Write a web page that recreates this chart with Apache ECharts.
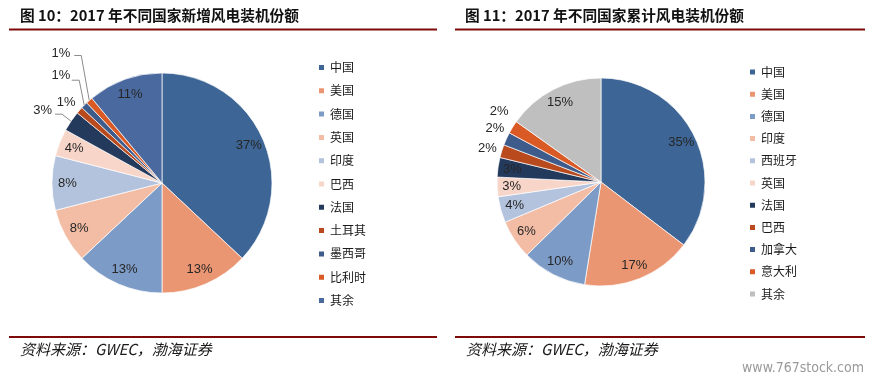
<!DOCTYPE html>
<html>
<head>
<meta charset="utf-8">
<script src="https://cdn.jsdelivr.net/npm/echarts@6/dist/echarts.min.js"></script>
<style>
html,body{margin:0;padding:0;background:#fff;}
#chart{width:877px;height:383px;}
</style>
</head>
<body>
<div id="chart"></div>
<script>
// ---------- data ----------
const leftTitle = '图 10：2017 年不同国家新增风电装机份额';
const rightTitle = '图 11：2017 年不同国家累计风电装机份额';
const sourceText = '资料来源：GWEC，渤海证券';
const watermark = 'www.767stock.com';

const leftCountries = ['中国', '美国', '德国', '英国', '印度', '巴西', '法国', '土耳其', '墨西哥', '比利时', '其余'];
const leftShares = [37, 13, 13, 8, 8, 4, 3, 1, 1, 1, 11];

const rightCountries = ['中国', '美国', '德国', '印度', '西班牙', '英国', '法国', '巴西', '加拿大', '意大利', '其余'];
const rightShares = [35, 17, 10, 6, 4, 3, 3, 2, 2, 2, 15];

// ---------- styles ----------
const leftColors = ['#3D6595', '#EA9672', '#7D9BC7', '#F2BCA5', '#B3C3DD', '#F7D5C8', '#243A5C', '#B84A1E', '#3D5B8B', '#D95A25', '#4A6A9F'];
const rightColors = ['#3D6595', '#EA9672', '#7D9BC7', '#F2BCA5', '#B3C3DD', '#F7D5C8', '#243A5C', '#B84A1E', '#3D5B8B', '#D95A25', '#BFBFBF'];

// outside label placement (style): index -> [labelDx, labelDy, bendDx, bendDy, endDx], relative to slice edge anchor
const leftOutside = {6: [-19, -11, -9, -7, -16], 7: [-4, -8, 0, 0, 0], 8: [-14, -30, -5, -25, -12.5], 9: [-19, -47, -8, -45, -15]};
const rightOutside = {7: [-5, -3, 0, 0, 0], 8: [-2, -10, 0, 0, 0], 9: [-4, -16, 0, 0, 0]};

const LEFT_C = [162, 183], LEFT_R = 110;
const RIGHT_C = [601, 182], RIGHT_R = 104;

const darkRed = '#7F0A0A';
const cjk = "'Noto Sans CJK SC', 'Noto Sans', sans-serif";
const labelFont = "'Liberation Sans', Arial, sans-serif";

function mainData(names, vals, colors, outside, showLine) {
  return names.map((n, i) => {
    const item = {name: n, value: vals[i], itemStyle: {color: colors[i]}};
    if (outside[i]) {
      item.label = {show: true, position: 'outside'};
      item.labelLine = {show: true, length: 6, length2: 4, lineStyle: {color: '#8C8C8C', width: 1, opacity: showLine ? 1 : 0}};
    }
    return item;
  });
}
function labelData(names, vals, outside) {
  return names.map((n, i) => ({name: n, value: vals[i], label: {show: !outside[i]}}));
}
function layoutFn(outside) {
  return function (params) {
    const o = outside[params.dataIndex];
    const pts = params.labelLinePoints;
    if (!o || !pts) return {};
    const ax = pts[0][0], ay = pts[0][1];
    return {
      x: ax + o[0],
      y: ay + o[1],
      align: 'right',
      verticalAlign: 'middle',
      labelLinePoints: [[ax, ay], [ax + o[2], ay + o[3]], [ax + o[4], ay + o[3]]]
    };
  };
}

const labelStyle = {fontSize: 13, color: '#262626', fontFamily: labelFont, formatter: '{c}%'};

function pieSeries(center, r, names, vals, colors, outside, showLine) {
  return [
    {
      type: 'pie', center: center, radius: [0, r], startAngle: 90, clockwise: true,
      avoidLabelOverlap: false,
      itemStyle: {borderColor: '#fff', borderWidth: 0.7},
      label: Object.assign({show: false}, labelStyle),
      labelLine: {show: false},
      labelLayout: layoutFn(outside),
      emphasis: {disabled: true},
      data: mainData(names, vals, colors, outside, showLine)
    },
    {
      type: 'pie', center: center, radius: [Math.round(r * 0.66), r], startAngle: 90, clockwise: true,
      silent: true, avoidLabelOverlap: false,
      itemStyle: {color: 'rgba(0,0,0,0)', borderWidth: 0},
      label: Object.assign({show: true, position: 'inside'}, labelStyle),
      labelLine: {show: false},
      emphasis: {disabled: true},
      tooltip: {show: false},
      data: labelData(names, vals, outside)
    }
  ];
}

const legendText = {fontSize: 12, color: '#1A1A1A', fontFamily: cjk, lineHeight: 14};

const chart = echarts.init(document.getElementById('chart'), null, {renderer: 'canvas'});
chart.setOption({
  backgroundColor: '#fff',
  animation: false,
  legend: [
    {
      orient: 'vertical', left: 312, top: 55.5, itemWidth: 7, itemHeight: 7, itemGap: 9.3,
      icon: 'rect', textStyle: legendText, selectedMode: false,
      data: leftCountries.map((n, i) => ({name: n, itemStyle: {color: leftColors[i]}}))
    },
    {
      orient: 'vertical', left: 743, top: 60, itemWidth: 7, itemHeight: 7, itemGap: 8.2,
      icon: 'rect', textStyle: legendText, selectedMode: false,
      data: rightCountries.map((n, i) => ({name: n, itemStyle: {color: rightColors[i]}}))
    }
  ],
  series: [].concat(
    pieSeries(LEFT_C, LEFT_R, leftCountries, leftShares, leftColors, leftOutside, true),
    pieSeries(RIGHT_C, RIGHT_R, rightCountries, rightShares, rightColors, rightOutside, false)
  ),
  graphic: [
    {type: 'text', left: 20, top: 8, style: {text: leftTitle, font: "bold 14.7px " + cjk, fill: '#111'}},
    {type: 'text', left: 465, top: 8, style: {text: rightTitle, font: "bold 14.7px " + cjk, fill: '#111'}},
    {type: 'line', shape: {x1: 9, y1: 29.5, x2: 437, y2: 29.5}, style: {stroke: darkRed, lineWidth: 2}},
    {type: 'line', shape: {x1: 455, y1: 29.5, x2: 865, y2: 29.5}, style: {stroke: darkRed, lineWidth: 2}},
    {type: 'line', shape: {x1: 9, y1: 337, x2: 437, y2: 337}, style: {stroke: darkRed, lineWidth: 2}},
    {type: 'line', shape: {x1: 455, y1: 337, x2: 865, y2: 337}, style: {stroke: darkRed, lineWidth: 2}},
    {type: 'text', left: 20, top: 342, style: {text: sourceText, font: "italic 15px " + cjk, fill: '#1A1A1A'}},
    {type: 'text', left: 466, top: 342, style: {text: sourceText, font: "italic 15px " + cjk, fill: '#1A1A1A'}},
    {type: 'text', right: 13, top: 361, style: {text: watermark, font: "14px 'DejaVu Sans Condensed', sans-serif", fill: '#9A9A9A'}}
  ]
});
</script>
</body>
</html>
